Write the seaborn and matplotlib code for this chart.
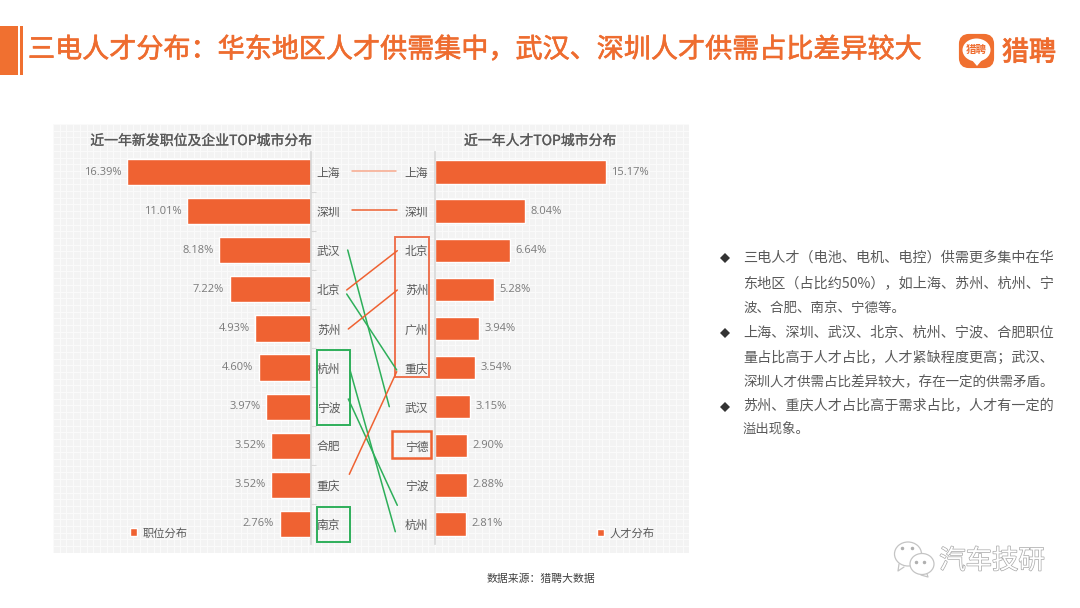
import matplotlib
matplotlib.use("Agg")
import matplotlib.pyplot as plt
import matplotlib.patheffects as pe
from matplotlib.patches import Rectangle, FancyBboxPatch, Ellipse, Polygon
import numpy as np
import pandas as pd
import seaborn as sns

cidades_vagas = ["上海", "深圳", "武汉", "北京", "苏州", "杭州", "宁波", "合肥", "重庆", "南京"]
valores_vagas = [16.39, 11.01, 8.18, 7.22, 4.93, 4.60, 3.97, 3.52, 3.52, 2.76]
cidades_talentos = ["上海", "深圳", "北京", "苏州", "广州", "重庆", "武汉", "宁德", "宁波", "杭州"]
valores_talentos = [15.17, 8.04, 6.64, 5.28, 3.94, 3.54, 3.15, 2.90, 2.88, 2.81]

titulo = "三电人才分布：华东地区人才供需集中，武汉、深圳人才供需占比差异较大"
titulo_esq = "近一年新发职位及企业TOP城市分布"
titulo_dir = "近一年人才TOP城市分布"
legenda_esq = "职位分布"
legenda_dir = "人才分布"
fonte = "数据来源：猎聘大数据"
texto_lateral = [
    ["三电人才（电池、电机、电控）供需更多集中在华",
     "东地区（占比约50%），如上海、苏州、杭州、宁",
     "波、合肥、南京、宁德等。"],
    ["上海、深圳、武汉、北京、杭州、宁波、合肥职位",
     "量占比高于人才占比，人才紧缺程度更高；武汉、",
     "深圳人才供需占比差异较大，存在一定的供需矛盾。"],
    ["苏州、重庆人才占比高于需求占比，人才有一定的",
     "溢出现象。"],
]

LARANJA = "#ef6232"
VERDE = "#2eaf5a"
CINZA = "#595959"
W, H = 1080, 608

sns.set_theme(style="white")
plt.rcParams["font.family"] = ["Noto Sans CJK SC", "DejaVu Sans"]
plt.rcParams["axes.unicode_minus"] = False

# fake medium weight, the CJK font only has regular and bold here
MEDIO = [pe.withStroke(linewidth=0.45, foreground="#ee6c2f")]
MEDIO_CINZA = [pe.withStroke(linewidth=0.2, foreground=CINZA)]


def eixo_px(fig, x0, y0, x1, y1):
    # axes position given in picture pixels (y from the top)
    return fig.add_axes([x0 / W, 1 - y1 / H, (x1 - x0) / W, (y1 - y0) / H])


def grafico_barras(ax, cidades, valores, largura, rotulo, limites):
    df = pd.DataFrame({"cidade": cidades, "valor": valores})
    sns.barplot(data=df, y="cidade", x="valor", color=LARANJA, saturation=1,
                width=largura, ax=ax, label=rotulo)
    ax.set_ylim(9.5, -0.5)
    ax.set_xlim(*limites)
    ax.set_xlabel("")
    ax.set_ylabel("")
    ax.set_xticks([])
    ax.patch.set_alpha(0)
    for lado in ["top", "bottom", "left", "right"]:
        ax.spines[lado].set_visible(False)
    ax.bar_label(ax.containers[0], fmt="%.2f%%", padding=4, fontsize=8,
                 color="#7a7a7a", family=["Open Sans", "DejaVu Sans"])
    ax.set_yticks(np.arange(0.5, 9.5), minor=True)
    ax.tick_params(axis="y", which="major", length=0, pad=4.5, labelsize=8.5, labelcolor=CINZA)
    ax.tick_params(axis="y", which="minor", length=3.5, width=0.8, color="#d9d9d9")


def legenda(ax, pos_x, pos_y):
    ax.legend(loc="center left", bbox_to_anchor=(pos_x, pos_y), frameon=False,
              fontsize=8.1, labelcolor=CINZA, handlelength=0.7, handleheight=0.7,
              handletextpad=0.45, borderpad=0, borderaxespad=0)


fig = plt.figure(figsize=(W / 100, H / 100), dpi=100, facecolor="white")

# painel de fundo quadriculado
fundo = eixo_px(fig, 53, 124, 689, 553)
fundo.set_facecolor("#f3f3f3")
fundo.set_xlim(0, 636)
fundo.set_ylim(429, 0)
fundo.set_xticks(np.arange(0, 636, 6.7))
fundo.set_yticks(np.arange(0, 429, 6.7))
fundo.grid(True, color="#fbfbfb", linewidth=0.7)
fundo.tick_params(length=0, labelbottom=False, labelleft=False)
for lado in fundo.spines.values():
    lado.set_visible(False)

# barras da esquerda: 11.2 px por ponto
ax_esq = eixo_px(fig, 86.5, 152.5, 310.5, 543.5)
grafico_barras(ax_esq, cidades_vagas, valores_vagas, 0.67, legenda_esq, (20, 0))
ax_esq.yaxis.tick_right()
ax_esq.tick_params(axis="y", which="minor", left=False, right=True)
ax_esq.spines["right"].set_visible(True)
ax_esq.spines["right"].set_color("#d9d9d9")
legenda(ax_esq, 43 / 224, 10.5 / 391)

# barras da direita: 11.3 px por ponto
ax_dir = eixo_px(fig, 434.5, 152.5, 660.5, 543.5)
grafico_barras(ax_dir, cidades_talentos, valores_talentos, 0.6, legenda_dir, (0, 20))
ax_dir.spines["left"].set_visible(True)
ax_dir.spines["left"].set_color("#d9d9d9")
legenda(ax_dir, 162 / 226, 10.5 / 391)

# camada em pixels para anotacoes
cam = fig.add_axes([0, 0, 1, 1], zorder=10)
cam.set_xlim(0, W)
cam.set_ylim(H, 0)
cam.axis("off")
cam.patch.set_alpha(0)

# cabecalho
cam.add_patch(Rectangle((0, 26), 18, 49, color="#f07030", lw=0))
cam.add_patch(Rectangle((20, 26), 3, 49, color="#f07030", lw=0))
cam.text(28, 50, titulo, fontsize=19.5, color="#ee6c2f", va="center", ha="left", path_effects=MEDIO)

# logo
cam.add_patch(FancyBboxPatch((961, 36), 31, 30, boxstyle="round,pad=0,rounding_size=8",
                             facecolor="#f07030", edgecolor="#f07030", lw=3))
cam.add_patch(Ellipse((976.5, 50), 28, 23, facecolor="white", edgecolor="none"))
cam.add_patch(Polygon([[971, 59], [982, 60], [977, 66]], facecolor="white", edgecolor="none"))
cam.text(976.5, 50, "猎聘", fontsize=7.6, color="#ee6c2f", fontweight="bold", ha="center",
         va="center", style="italic")
cam.text(1029, 53, "猎聘", fontsize=19.5, color="#ee6c2f", ha="center", va="center",
         path_effects=[pe.withStroke(linewidth=0.7, foreground="#ee6c2f")])

# titulos dos graficos
cam.text(201, 141, titulo_esq, fontsize=10, color=CINZA, ha="center", va="center", path_effects=MEDIO_CINZA)
cam.text(540, 141, titulo_dir, fontsize=10, color=CINZA, ha="center", va="center", path_effects=MEDIO_CINZA)

# ligacoes entre as cidades
cam.plot([352, 396], [171, 171], color="#f7a88c", lw=1.1)
cam.plot([352, 397], [210, 210], color=LARANJA, lw=1.1)
cam.plot([347.7, 389.3], [250, 406.7], color=VERDE, lw=1.1)
cam.plot([346.7, 397.3], [290, 250.7], color=LARANJA, lw=1.1)
cam.plot([346.7, 396.7], [294, 370], color=VERDE, lw=1.1)
cam.plot([348.3, 397.3], [329, 290], color=LARANJA, lw=1.1)
cam.plot([350, 395.3], [370, 531.7], color=VERDE, lw=1.1)
cam.plot([348.3, 397.3], [399, 505.3], color=VERDE, lw=1.1)
cam.plot([349.3, 396.7], [474.3, 371.7], color=LARANJA, lw=1.1)

# caixas
for x0, y0, x1, y1, cor, lw in [
    (317.3, 350, 350.3, 424.7, VERDE, 1.4),
    (317.3, 506.7, 350.3, 541.7, VERDE, 1.4),
    (395.3, 237.3, 428.7, 377.3, "#ee7350", 1.4),
    (392.3, 431.3, 431.3, 457.7, LARANJA, 1.8),
]:
    cam.add_patch(Rectangle((x0, y0), x1 - x0, y1 - y0, fill=False, edgecolor=cor, lw=lw))

# texto lateral (o original e justificado, cada linha tem o seu tamanho)
ys = [[258, 283, 308], [333, 357.5, 382], [406.5, 430]]
tamanhos = [[10.15, 10.15, 9.7], [10.15, 10.15, 9.75], [10.15, 9.6]]
for bloco, ys_bloco, tam_bloco in zip(texto_lateral, ys, tamanhos):
    cam.plot(725, ys_bloco[0], "D", ms=5, color="#333333", mew=0)
    for linha, y, tam in zip(bloco, ys_bloco, tam_bloco):
        cam.text(743, y, linha, fontsize=tam, color="#595959", ha="left", va="center")

# fonte
cam.text(541, 579, fonte, fontsize=7.8, color="#404040", ha="center", va="center")

# marca d'agua
for cx, cy, w, h in [(908, 554, 27, 24), (922, 564, 24, 21)]:
    cam.add_patch(Ellipse((cx, cy), w, h, facecolor="white", edgecolor="#c4c4c4", lw=0.9))
cam.plot([899, 898, 904], [564, 571, 567], color="#c4c4c4", lw=0.9)
cam.plot([927, 928, 921], [574, 577, 575], color="#c4c4c4", lw=0.9)
for px, py in [(902, 548), (912, 548), (916, 562), (924, 562)]:
    cam.plot(px, py, "o", ms=1.5, color="#b0b0b0")
cam.text(992, 561, "汽车技研", fontsize=19, color="white", ha="center", va="center",
         path_effects=[pe.withStroke(linewidth=1.0, foreground="#a8a8a8")])

fig.savefig("out.png", dpi=100)
plt.close(fig)
